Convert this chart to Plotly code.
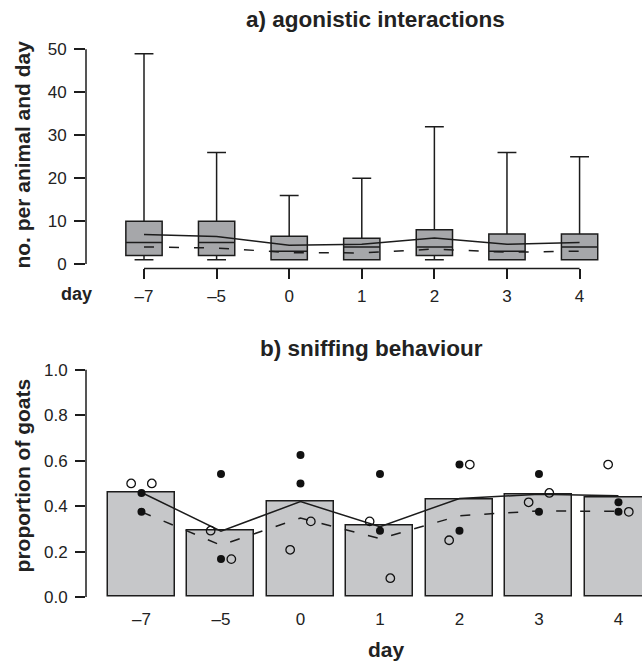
import plotly.graph_objects as go

# ---------------- data ----------------
days = ["–7", "–5", "0", "1", "2", "3", "4"]

# a) agonistic interactions (box summaries)
box_low = [1, 1, 1, 1, 1, 1, 1]
box_q1 = [2, 2, 1, 1, 2, 1, 1]
box_med = [5, 5, 3, 4, 4, 3, 4]
box_q3 = [10, 10, 6.5, 6, 8, 7, 7]
box_high = [49, 26, 16, 20, 32, 26, 25]
agon_solid = [6.9, 6.4, 4.4, 4.6, 6.05, 4.6, 5.0]
agon_dashed = [4.0, 3.75, 2.67, 2.6, 3.5, 2.76, 3.0]

# b) sniffing behaviour
sniff_bar = [0.46, 0.293, 0.418, 0.313, 0.427, 0.449, 0.437]
sniff_solid = [0.46, 0.29, 0.42, 0.31, 0.434, 0.452, 0.446]
sniff_dashed = [0.375, 0.228, 0.348, 0.257, 0.358, 0.379, 0.377]
filled_a = [0.458, 0.542, 0.625, 0.542, 0.583, 0.542, 0.417]
filled_b = [0.375, 0.167, 0.500, 0.292, 0.292, 0.375, 0.375]
open_left = [0.500, 0.292, 0.208, 0.333, 0.250, 0.417, 0.583]
open_right = [0.500, 0.167, 0.333, 0.083, 0.583, 0.458, 0.375]

# ---------------- layout helpers ----------------
W, H = 642, 667
def px(yp):
    return 1 - yp / H

idx = list(range(len(days)))
INK = "#1c1c1c"
FONT = "Liberation Sans, Arial, Helvetica, sans-serif"
JIT = 0.13

fig = go.Figure()

# ---- panel a ----
fig.add_trace(go.Box(
    x=idx, q1=box_q1, median=box_med, q3=box_q3,
    lowerfence=box_low, upperfence=box_high,
    width=0.5, whiskerwidth=0.52,
    fillcolor="#a6a7aa", line=dict(color=INK, width=1.5),
    boxpoints=False, xaxis="x", yaxis="y", showlegend=False, hoverinfo="skip"))
fig.add_trace(go.Scatter(x=idx, y=agon_solid, mode="lines",
                         line=dict(color=INK, width=1.5),
                         xaxis="x", yaxis="y", showlegend=False))
fig.add_trace(go.Scatter(x=idx, y=agon_dashed, mode="lines",
                         line=dict(color=INK, width=1.5, dash="10px,15px"),
                         xaxis="x", yaxis="y", showlegend=False))

# ---- panel b ----
fig.add_trace(go.Bar(x=idx, y=sniff_bar, width=0.843,
                     marker=dict(color="#c6c7c9", line=dict(color=INK, width=1.5)),
                     xaxis="x2", yaxis="y2", showlegend=False))
fig.add_trace(go.Scatter(x=idx, y=sniff_solid, mode="lines",
                         line=dict(color=INK, width=1.5),
                         xaxis="x2", yaxis="y2", showlegend=False))
fig.add_trace(go.Scatter(x=idx, y=sniff_dashed, mode="lines",
                         line=dict(color=INK, width=1.5, dash="10px,14px"),
                         xaxis="x2", yaxis="y2", showlegend=False))
fig.add_trace(go.Scatter(x=idx + idx, y=filled_a + filled_b, mode="markers",
                         marker=dict(symbol="circle", size=8, color="#111111"),
                         xaxis="x2", yaxis="y2", showlegend=False))
fig.add_trace(go.Scatter(x=[i - JIT for i in idx] + [i + JIT for i in idx],
                         y=open_left + open_right, mode="markers",
                         marker=dict(symbol="circle-open", size=8.5, color="#111111",
                                     line=dict(width=1.3)),
                         xaxis="x2", yaxis="y2", showlegend=False))

xl = 86 / W
tickfont = dict(family=FONT, size=17, color="#222222")

fig.update_layout(
    width=W, height=H, margin=dict(l=0, r=0, t=0, b=0),
    paper_bgcolor="white", plot_bgcolor="white",
    font=dict(family=FONT, color="#222222"),
    xaxis=dict(domain=[xl, 1], range=[-0.799, 6.860], anchor="y",
               tickmode="array", tickvals=idx, ticktext=days,
               ticks="outside", ticklen=10, tickwidth=1.5, tickcolor=INK,
               showline=False, showgrid=False, zeroline=False,
               tickfont=tickfont, ticklabelstandoff=2),
    yaxis=dict(domain=[px(271.7), px(40)], range=[-1.012, 52.29], anchor="x",
               tickmode="array", tickvals=[0, 10, 20, 30, 40, 50],
               ticks="outside", ticklen=11, tickwidth=1.5, tickcolor=INK,
               showline=False, showgrid=False, zeroline=False,
               tickfont=tickfont, ticklabelstandoff=4),
    xaxis2=dict(domain=[xl, 1], range=[-0.698, 6.296], anchor="y2",
                tickmode="array", tickvals=idx, ticktext=days,
                ticks="", showline=False, showgrid=False, zeroline=False,
                tickfont=tickfont, ticklabelstandoff=8),
    yaxis2=dict(domain=[px(606.6), px(365)], range=[-0.01, 1.0404], anchor="x2",
                tickmode="array", tickvals=[0, 0.2, 0.4, 0.6, 0.8, 1.0],
                ticktext=["0.0", "0.2", "0.4", "0.6", "0.8", "1.0"],
                ticks="outside", ticklen=10, tickwidth=1.5, tickcolor=INK,
                showline=False, showgrid=False, zeroline=False,
                tickfont=tickfont, ticklabelstandoff=4),
    bargap=0,
)

# R-style axis lines
fig.add_shape(type="line", xref="paper", yref="y", x0=xl, x1=xl, y0=0, y1=50,
              line=dict(color=INK, width=1.5))
fig.add_shape(type="line", xref="x", yref="paper", x0=0, x1=6,
              y0=px(271.7), y1=px(271.7), line=dict(color=INK, width=1.5))
fig.add_shape(type="line", xref="paper", yref="y2", x0=xl, x1=xl, y0=0, y1=1,
              line=dict(color=INK, width=1.5))

def ann(text, x, y, size, angle=0):
    fig.add_annotation(text=f"<b>{text}</b>", xref="paper", yref="paper",
                       x=x / W, y=px(y), xanchor="center", yanchor="middle",
                       showarrow=False, textangle=angle,
                       font=dict(family=FONT, size=size, color="#222222"))

ann("a) agonistic interactions", 375, 20, 22.5)
ann("no. per animal and day", 23, 156.5, 21, -90)
ann("day", 76, 297.3, 18)
ann("b) sniffing behaviour", 371, 353, 22.5)
ann("proportion of goats", 22.5, 481.7, 21, -90)
ann("day", 386, 657, 21)

fig.write_html("out.html")
